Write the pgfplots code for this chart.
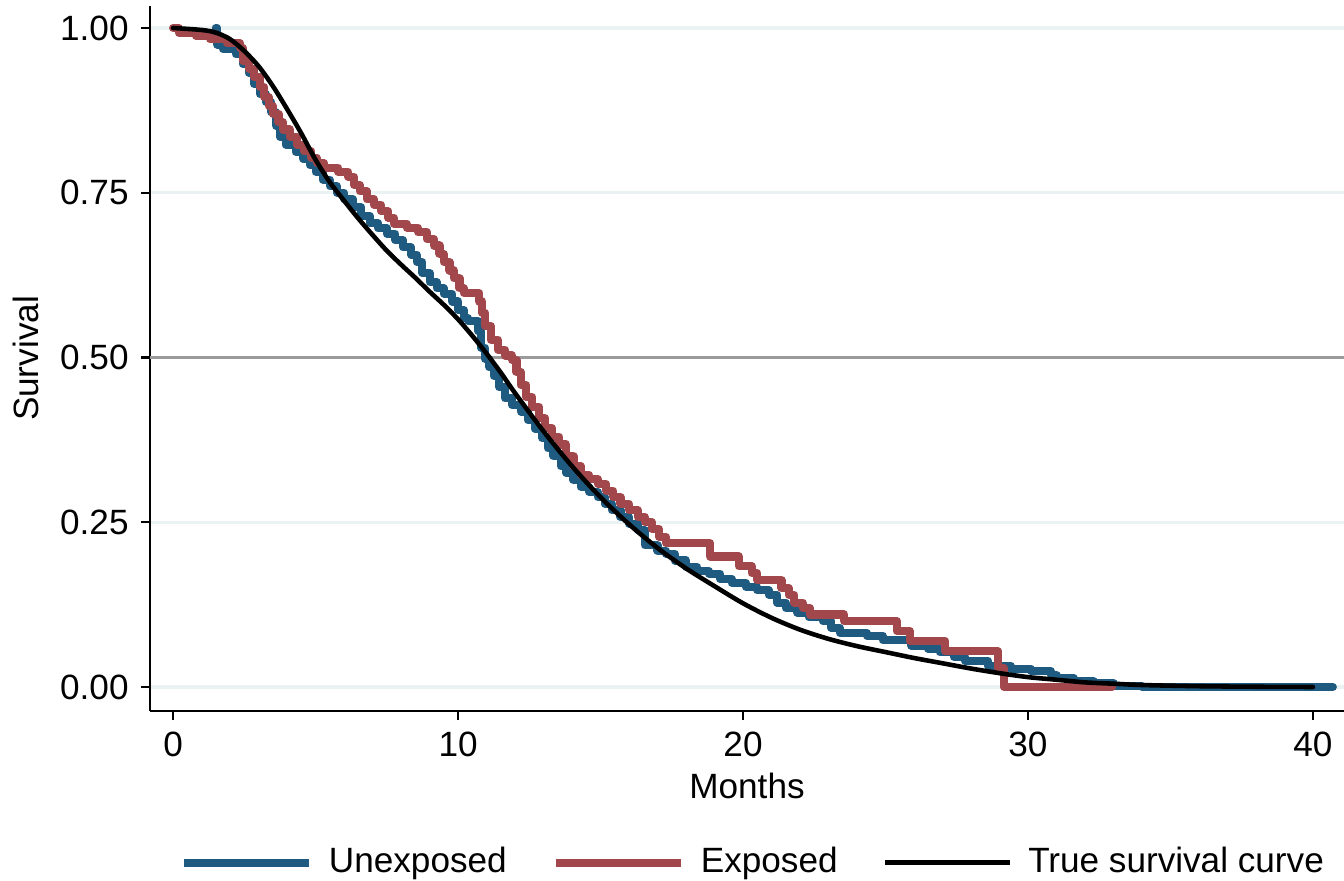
\documentclass[border=0pt]{standalone}
\usepackage{pgfplots}
\pgfplotsset{compat=1.18}
\usepackage{fontspec}
\setmainfont{Liberation Sans}
\definecolor{kmblue}{RGB}{31,90,128}
\definecolor{kmred}{RGB}{162,72,76}
\definecolor{gridc}{RGB}{234,242,243}
\definecolor{refgray}{RGB}{155,155,155}

\begin{document}
\begin{tikzpicture}
\path[use as bounding box] (0,0) rectangle (13.44,8.81);
\begin{axis}[
  at={(1.50cm,1.70cm)}, anchor=south west,
  scale only axis, width=11.94cm, height=7.05cm,
  xmin=-0.81, xmax=41.09, ymin=-0.0364, ymax=1.0334,
  axis x line*=bottom, axis y line*=left,
  axis line style={-, line width=0.7pt},
  tick align=outside, major tick length=0.09cm,
  tick style={black, line width=0.7pt},
  xtick={0,10,20,30,40}, ytick={0,0.25,0.5,0.75,1},
  /pgf/number format/assume math mode=true,
  y tick label style={/pgf/number format/fixed, /pgf/number format/fixed zerofill, /pgf/number format/precision=2},
  tick label style={font=\fontsize{10}{12}\selectfont},
  label style={font=\fontsize{10}{12}\selectfont},
  xlabel style={yshift=0.08cm},
  ylabel style={yshift=-0.03cm},
  ymajorgrids, grid style={gridc, line width=0.9pt},
  xlabel={Months}, ylabel={Survival},
  legend columns=3,
  legend style={at={(0.507,-0.215)}, anchor=center, draw=none, fill=none,
    font=\fontsize{10}{12}\selectfont,
    /tikz/every odd column/.append style={column sep=0.09cm},
    /tikz/every even column/.append style={column sep=0.38cm}},
  legend image code/.code={\draw[#1, line cap=butt] (0cm,0cm) -- (1.25cm,0cm);},
]
\addplot[forget plot, refgray, line width=0.9pt] coordinates {(-0.81,0.5) (41.09,0.5)};

% Unexposed (Kaplan-Meier)
\addplot[const plot, kmblue, line width=2.3pt, line cap=round, line join=round] coordinates {
(1.5,1.000) (1.55,0.975) (1.75,0.968) (2.2,0.960) (2.45,0.945) (2.65,0.932)
(2.85,0.915) (3.05,0.900) (3.25,0.888) (3.45,0.872) (3.6,0.852) (3.75,0.835)
(3.95,0.823) (4.3,0.812) (4.55,0.802) (4.8,0.792) (5.0,0.782) (5.25,0.770)
(5.5,0.760) (5.75,0.750) (6.0,0.740) (6.3,0.728) (6.6,0.715) (6.9,0.704)
(7.2,0.696) (7.5,0.688) (7.8,0.678) (8.07,0.667) (8.35,0.656) (8.55,0.645)
(8.75,0.628) (9.0,0.614) (9.25,0.605) (9.5,0.597) (9.8,0.585) (10.0,0.572)
(10.2,0.560) (10.35,0.556) (10.7,0.540) (10.8,0.515) (10.95,0.498) (11.1,0.485)
(11.25,0.472) (11.45,0.455) (11.65,0.438) (11.9,0.428) (12.2,0.418) (12.45,0.405)
(12.7,0.392) (12.95,0.378) (13.15,0.362) (13.35,0.350) (13.6,0.335) (13.8,0.325)
(14.05,0.314) (14.3,0.304) (14.6,0.296) (14.9,0.288) (15.15,0.278) (15.4,0.268)
(15.7,0.258) (16.0,0.248) (16.3,0.238) (16.55,0.215) (17.0,0.207) (17.3,0.202)
(17.6,0.192) (18.0,0.182) (18.4,0.176) (18.8,0.172) (19.2,0.164) (19.6,0.158)
(20.1,0.152) (20.5,0.147) (20.9,0.140) (21.2,0.128) (21.5,0.120) (21.9,0.113)
(22.3,0.106) (22.8,0.100) (23.1,0.090) (23.4,0.082) (24.35,0.078) (24.9,0.071)
(25.9,0.063) (26.5,0.058) (26.9,0.053) (27.4,0.046) (27.8,0.040) (28.6,0.032)
(29.4,0.028) (30.1,0.024) (30.8,0.018) (31.0,0.013) (31.6,0.009) (32.3,0.006)
(33.0,0.002) (34.0,0.0) (40.7,0.0)
};
\addlegendentry{Unexposed}

% Exposed (Kaplan-Meier)
\addplot[const plot, kmred, line width=2.3pt, line cap=round, line join=round] coordinates {
(0,1.000) (0.2,0.993) (0.8,0.988) (1.3,0.983) (1.9,0.977) (2.35,0.970)
(2.45,0.950) (2.65,0.938) (2.85,0.925) (3.05,0.910) (3.2,0.895) (3.35,0.882)
(3.5,0.870) (3.7,0.857) (3.85,0.846) (4.1,0.835) (4.35,0.823) (4.6,0.813)
(4.85,0.803) (5.05,0.795) (5.3,0.788) (5.8,0.782) (6.15,0.774) (6.35,0.762)
(6.55,0.752) (6.8,0.740) (7.05,0.732) (7.3,0.722) (7.55,0.712) (7.75,0.703)
(8.2,0.697) (8.6,0.690) (8.9,0.680) (9.15,0.670) (9.35,0.657) (9.5,0.645)
(9.7,0.632) (9.85,0.620) (10.05,0.605) (10.2,0.598) (10.75,0.585) (10.85,0.568)
(10.95,0.548) (11.15,0.527) (11.4,0.512) (11.65,0.503) (11.9,0.496) (12.05,0.478)
(12.2,0.458) (12.4,0.440) (12.6,0.425) (12.85,0.408) (13.05,0.393) (13.3,0.380)
(13.55,0.368) (13.8,0.350) (14.05,0.335) (14.3,0.322) (14.6,0.315) (14.9,0.308)
(15.2,0.298) (15.45,0.288) (15.7,0.278) (16.0,0.268) (16.3,0.258) (16.55,0.250)
(16.8,0.240) (17.05,0.228) (17.3,0.218) (18.85,0.198) (19.85,0.183) (20.3,0.173)
(20.5,0.162) (21.35,0.150) (21.6,0.140) (21.8,0.128) (22.1,0.120) (22.35,0.110)
(23.55,0.100) (25.4,0.085) (25.85,0.070) (27.1,0.054) (28.95,0.029) (29.15,0.0)
(32.95,0.0)
};
\addlegendentry{Exposed}

% True survival curve
\addplot[smooth, black, line width=1.3pt, line cap=round] coordinates {
(0,1.000) (1,0.997) (1.5,0.993) (2,0.983) (2.5,0.965) (3,0.942) (3.5,0.912)
(4,0.877) (4.5,0.840) (5,0.800) (5.5,0.766) (6,0.738) (6.5,0.711) (7,0.686)
(7.5,0.662) (8,0.641) (8.5,0.621) (9,0.600) (9.5,0.580) (10,0.558) (10.5,0.533)
(11,0.506) (11.5,0.477) (12,0.446) (13,0.388) (14,0.335) (15,0.288)
(16,0.247) (17,0.211) (18,0.180) (19,0.153) (20,0.127) (21,0.105) (22,0.087)
(23,0.073) (24,0.062) (25,0.053) (26,0.044) (27,0.036) (28,0.028) (29,0.021)
(30,0.015) (31,0.011) (32,0.007) (33,0.005) (34,0.003) (36,0.0012) (38,0.0004)
(40,0.0)
};
\addlegendentry{True survival curve}
\end{axis}
\end{tikzpicture}
\end{document}
